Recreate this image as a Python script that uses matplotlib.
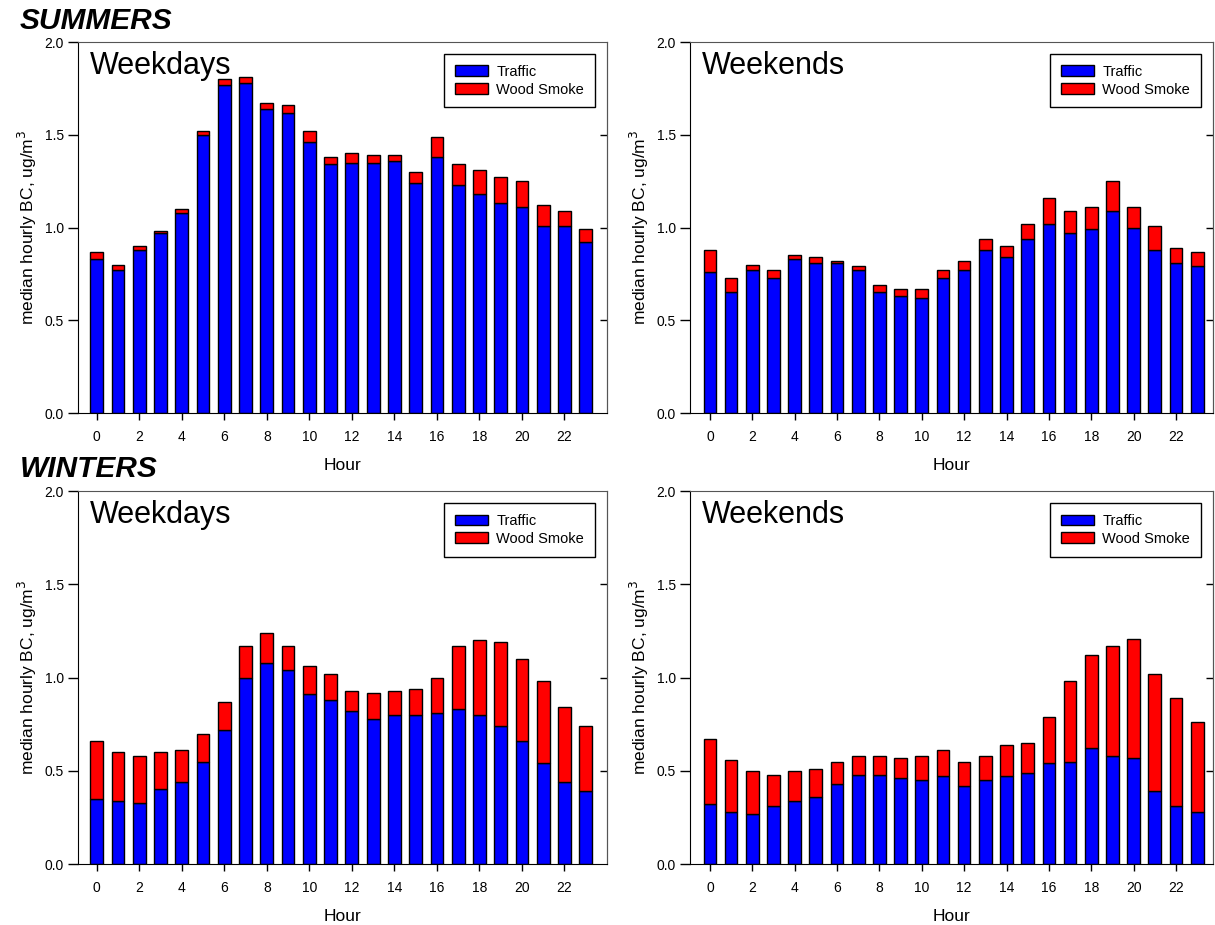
import numpy as np
import matplotlib.pyplot as plt

plt.rcParams['font.family'] = ['Liberation Sans', 'DejaVu Sans']

hours = np.arange(24)

# summers, weekdays
sum_wd_traffic = [0.83, 0.77, 0.88, 0.97, 1.08, 1.50, 1.77, 1.78, 1.64, 1.62, 1.46, 1.34,
                  1.35, 1.35, 1.36, 1.24, 1.38, 1.23, 1.18, 1.13, 1.11, 1.01, 1.01, 0.92]
sum_wd_total = [0.87, 0.80, 0.90, 0.98, 1.10, 1.52, 1.80, 1.81, 1.67, 1.66, 1.52, 1.38,
                1.40, 1.39, 1.39, 1.30, 1.49, 1.34, 1.31, 1.27, 1.25, 1.12, 1.09, 0.99]
# summers, weekends
sum_we_traffic = [0.76, 0.65, 0.77, 0.73, 0.83, 0.81, 0.81, 0.77, 0.65, 0.63, 0.62, 0.73,
                  0.77, 0.88, 0.84, 0.94, 1.02, 0.97, 0.99, 1.09, 1.00, 0.88, 0.81, 0.79]
sum_we_total = [0.88, 0.73, 0.80, 0.77, 0.85, 0.84, 0.82, 0.79, 0.69, 0.67, 0.67, 0.77,
                0.82, 0.94, 0.90, 1.02, 1.16, 1.09, 1.11, 1.25, 1.11, 1.01, 0.89, 0.87]
# winters, weekdays
win_wd_traffic = [0.35, 0.34, 0.33, 0.40, 0.44, 0.55, 0.72, 1.00, 1.08, 1.04, 0.91, 0.88,
                  0.82, 0.78, 0.80, 0.80, 0.81, 0.83, 0.80, 0.74, 0.66, 0.54, 0.44, 0.39]
win_wd_total = [0.66, 0.60, 0.58, 0.60, 0.61, 0.70, 0.87, 1.17, 1.24, 1.17, 1.06, 1.02,
                0.93, 0.92, 0.93, 0.94, 1.00, 1.17, 1.20, 1.19, 1.10, 0.98, 0.84, 0.74]
# winters, weekends
win_we_traffic = [0.32, 0.28, 0.27, 0.31, 0.34, 0.36, 0.43, 0.48, 0.48, 0.46, 0.45, 0.47,
                  0.42, 0.45, 0.47, 0.49, 0.54, 0.55, 0.62, 0.58, 0.57, 0.39, 0.31, 0.28]
win_we_total = [0.67, 0.56, 0.50, 0.48, 0.50, 0.51, 0.55, 0.58, 0.58, 0.57, 0.58, 0.61,
                0.55, 0.58, 0.64, 0.65, 0.79, 0.98, 1.12, 1.17, 1.21, 1.02, 0.89, 0.76]

panels = [
    ([0.0642, 0.5535, 0.4354, 0.401], sum_wd_traffic, sum_wd_total, 'Weekdays', (-0.88, 24.0)),
    ([0.5679, 0.5535, 0.4305, 0.401], sum_we_traffic, sum_we_total, 'Weekends', (-0.94, 23.75)),
    ([0.0642, 0.0659, 0.4354, 0.403], win_wd_traffic, win_wd_total, 'Weekdays', (-0.88, 24.0)),
    ([0.5679, 0.0659, 0.4305, 0.403], win_we_traffic, win_we_total, 'Weekends', (-0.94, 23.75)),
]

fig = plt.figure(figsize=(12.15, 9.25), dpi=100)

for rect, traffic, total, name, xl in panels:
    ax = fig.add_axes(rect)
    wood = np.array(total) - np.array(traffic)
    ax.bar(hours, traffic, width=0.6, color='#0000ff', edgecolor='black', linewidth=1,
           label='Traffic')
    ax.bar(hours, wood, width=0.6, bottom=traffic, color='#ff0000', edgecolor='black',
           linewidth=1, label='Wood Smoke')
    ax.set_xlim(xl)
    ax.set_ylim(0, 2.0)
    ax.set_xticks(np.arange(0, 24, 2))
    ax.set_yticks([0, 0.5, 1.0, 1.5, 2.0])
    ax.set_yticklabels(['0.0', '0.5', '1.0', '1.5', '2.0'])
    ax.tick_params(axis='x', labelsize=10, direction='out', length=5, width=1, pad=7)
    ax.tick_params(axis='y', labelsize=10, direction='out', length=7, width=1, pad=3)
    # inward ticks on the right side, no labels
    sec = ax.secondary_yaxis('right')
    sec.set_yticks([0.5, 1.0, 1.5])
    sec.tick_params(direction='in', length=5, width=1, labelright=False)
    sec.spines['right'].set_color('#555555')
    ax.spines['top'].set_color('#555555')
    ax.spines['right'].set_color('#555555')
    ax.set_xlabel('Hour', fontsize=12.5, labelpad=10)
    ax.set_ylabel('median hourly BC, ug/m$^3$', fontsize=12.5, labelpad=4)
    ax.text(0.023, 0.915, name, transform=ax.transAxes, fontsize=22, va='baseline',
            ha='left')
    leg = ax.legend(loc='upper right', bbox_to_anchor=(0.977, 0.968), fontsize=10.5,
                    fancybox=False, framealpha=1, edgecolor='black', handlelength=2.3,
                    handleheight=0.75, borderpad=0.75, labelspacing=0.25,
                    handletextpad=0.55, borderaxespad=0)
    leg.get_frame().set_linewidth(1)

fig.text(0.016, 0.9686, 'SUMMERS', fontsize=21.5, fontweight='bold', fontstyle='italic',
         va='baseline', ha='left')
fig.text(0.016, 0.4843, 'WINTERS', fontsize=21.5, fontweight='bold', fontstyle='italic',
         va='baseline', ha='left')

plt.savefig('out.png', dpi=100)
